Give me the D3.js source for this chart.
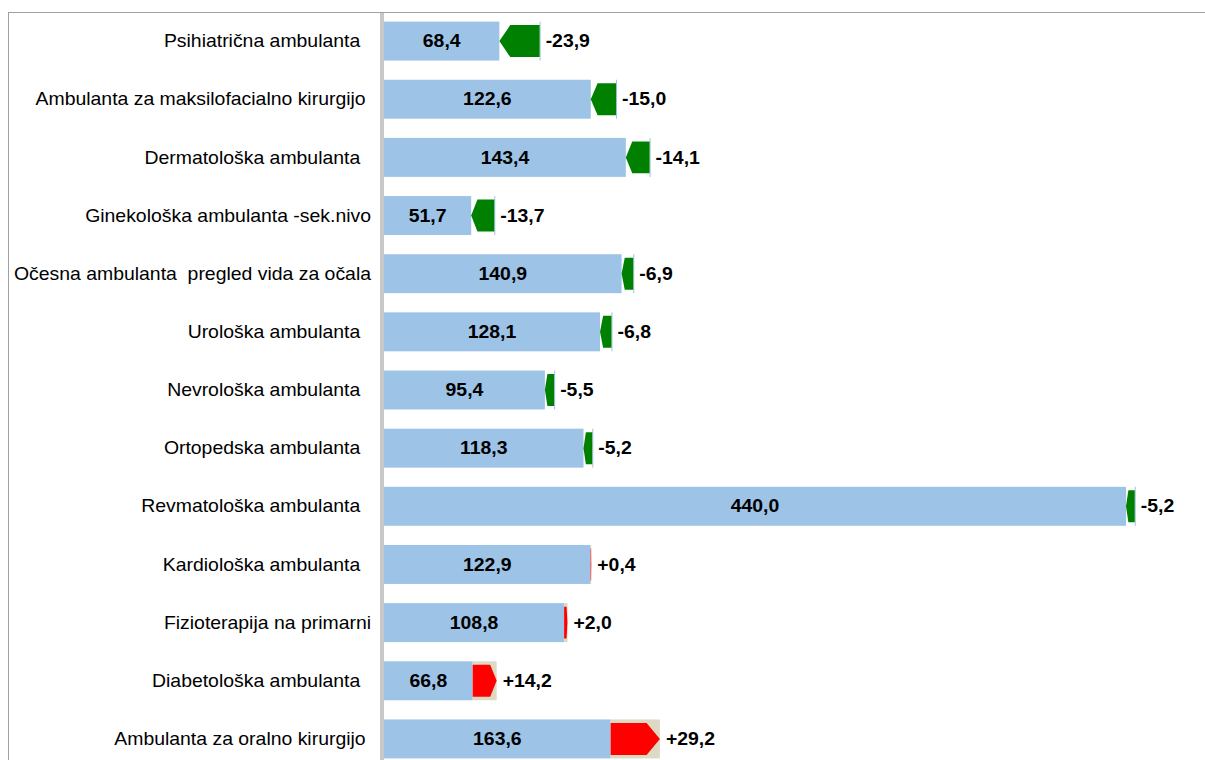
<!DOCTYPE html>
<html>
<head>
<meta charset="utf-8">
<script src="https://cdn.jsdelivr.net/npm/d3@7"></script>
<style>
    body { margin: 0; background: #fff; }
    svg text { font-family: "Liberation Sans", Arial, sans-serif; white-space: pre; }
</style>
</head>
<body>
<svg id="chart" width="1205" height="760"></svg>
<script>
// shortcut selector
function $(id){return document.getElementById(id);}

// data (current value and change vs. previous)
var categories = [
    "Psihiatrična ambulanta  ",
    "Ambulanta za maksilofacialno kirurgijo ",
    "Dermatološka ambulanta  ",
    "Ginekološka ambulanta -sek.nivo",
    "Očesna ambulanta  pregled vida za očala",
    "Urološka ambulanta  ",
    "Nevrološka ambulanta  ",
    "Ortopedska ambulanta  ",
    "Revmatološka ambulanta  ",
    "Kardiološka ambulanta  ",
    "Fizioterapija na primarni",
    "Diabetološka ambulanta  ",
    "Ambulanta za oralno kirurgijo "
];
var values = [68.4, 122.6, 143.4, 51.7, 140.9, 128.1, 95.4, 118.3, 440.0, 122.9, 108.8, 66.8, 163.6];
var changes = [-23.9, -15.0, -14.1, -13.7, -6.9, -6.8, -5.5, -5.2, -5.2, 0.4, 2.0, 14.2, 29.2];

var BLUE = "#9dc3e6", BEIGE = "#ddd9c3", GREEN = "#008000", RED = "#ff0000";
var STRETCH = 1.11; // text in the original is a bit wide

function fmt(v){ return v.toFixed(1).replace(".", ","); }
function fmtSigned(v){ return (v >= 0 ? "+" : "-") + fmt(Math.abs(v)); }

var rows = categories.map(function(c, i){
    return { category: c, value: values[i], change: changes[i], prev: values[i] - changes[i] };
});

var svg = d3.select($("chart"));

var x = d3.scaleLinear().domain([0, 440]).range([384, 1126]);
var y = d3.scaleBand().domain(categories).range([12, 768]).paddingInner(0.33).paddingOuter(0.165);
var bh = y.bandwidth();

// outer frame
svg.append("rect")
    .attr("x", 8.5).attr("y", 12.5)
    .attr("width", 1300).attr("height", 800)
    .attr("fill", "none").attr("stroke", "#a0a0a0");

// axis line
svg.append("rect")
    .attr("x", x(0) - 4).attr("y", 13)
    .attr("width", 4).attr("height", 760)
    .attr("fill", "#c8c8c8");

var g = svg.selectAll(".row").data(rows).enter().append("g").attr("class", "row");

// blue bar = smaller of current / previous
g.append("rect")
    .attr("x", x(0))
    .attr("y", function(d){ return y(d.category); })
    .attr("width", function(d){ return x(Math.min(d.value, d.prev)) - x(0); })
    .attr("height", bh)
    .attr("fill", BLUE);

// beige box behind increases
g.filter(function(d){ return d.change > 0; }).append("rect")
    .attr("x", function(d){ return x(d.prev); })
    .attr("y", function(d){ return y(d.category); })
    .attr("width", function(d){ return x(d.value) - x(d.prev); })
    .attr("height", bh)
    .attr("fill", BEIGE);

// thin marker at previous value for decreases
g.filter(function(d){ return d.change < 0; }).append("line")
    .attr("x1", function(d){ return x(d.prev) + 0.5; })
    .attr("x2", function(d){ return x(d.prev) + 0.5; })
    .attr("y1", function(d){ return y(d.category); })
    .attr("y2", function(d){ return y(d.category) + bh; })
    .attr("stroke", BLUE).attr("stroke-width", 1);

// arrows
function arrowPath(d){
    var x0 = x(d.prev), x1 = x(d.value);
    var w = Math.abs(x1 - x0);
    var head = w * 0.27;
    var top = y(d.category) + bh * 0.09, bot = y(d.category) + bh * 0.91, mid = y(d.category) + bh / 2;
    var dir = x1 > x0 ? 1 : -1;
    var hx = x1 - dir * head;
    return "M" + x0 + "," + top + "L" + hx + "," + top + "L" + x1 + "," + mid +
           "L" + hx + "," + bot + "L" + x0 + "," + bot + "Z";
}
g.append("path")
    .attr("d", arrowPath)
    .attr("fill", function(d){ return d.change < 0 ? GREEN : RED; });

function place(px, d){
    return "translate(" + px + "," + (y(d.category) + bh / 2) + ") scale(" + STRETCH + ",1)";
}

// value labels
g.append("text")
    .attr("transform", function(d){ return place((x(0) + x(Math.min(d.value, d.prev))) / 2, d); })
    .attr("dy", "0.35em")
    .attr("text-anchor", "middle")
    .attr("font-size", 17.5).attr("font-weight", "bold").attr("fill", "#000")
    .text(function(d){ return fmt(d.value); });

// change labels
g.append("text")
    .attr("transform", function(d){ return place(x(Math.max(d.value, d.prev)) + 6, d); })
    .attr("dy", "0.35em")
    .attr("font-size", 17.5).attr("font-weight", "bold").attr("fill", "#000")
    .text(function(d){ return fmtSigned(d.change); });

// category labels
g.append("text")
    .attr("transform", function(d){ return place(371, d); })
    .attr("dy", "0.35em")
    .attr("text-anchor", "end")
    .attr("font-size", 17.5).attr("fill", "#000")
    .text(function(d){ return d.category; });
</script>
</body>
</html>
